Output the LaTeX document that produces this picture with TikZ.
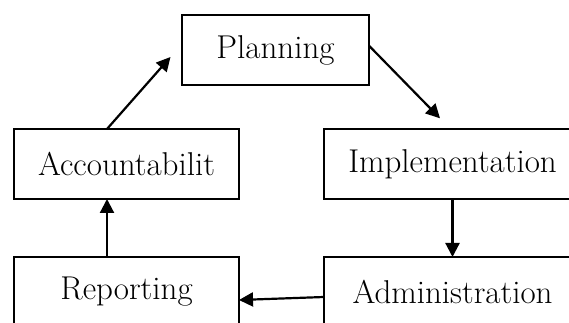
\documentclass[tikz,border=0pt]{standalone}
\usepackage{tikz}
\usetikzlibrary{arrows.meta,positioning}

\begin{document}
\begin{tikzpicture}[
  x=1pt, y=1pt,
  font=\fontsize{33}{38}\selectfont,
  box/.style={draw, line width=1.6pt, inner sep=0pt, outer sep=0pt, minimum height=70pt, align=center},
  arr/.style={-{Triangle[length=14pt,width=14pt]}, line width=2.2pt}
]
  \clip (0,0) rectangle (569,323);
  \node[box, minimum width=187pt] (plan) at (275.5,273) {Planning};
  \node[box, minimum width=225pt] (acc) at (126.5,159) {Accountabilit};
  \node[box, minimum width=225pt, below=58pt of acc] (rep) {Reporting};
  \node[box, minimum width=257pt, right=85pt of acc] (impl) {Implementation};
  \node[box, minimum width=257pt, below=58pt of impl] (admin) {Administration};

  \draw[arr] ([xshift=-19.5pt]acc.north) -- ([shift={(-11.5pt,-7pt)}]plan.west);
  \draw[arr] ([yshift=4.3pt]plan.east) -- ([shift={(-12.5pt,10.7pt)}]impl.north);
  \draw[arr] (impl.south) -- (admin.north);
  \draw[arr] ([yshift=-5pt]admin.west) -- ([yshift=-8pt]rep.east);
  \draw[arr] ([xshift=-19.5pt]rep.north) -- ([xshift=-19.5pt]acc.south);
\end{tikzpicture}
\end{document}
